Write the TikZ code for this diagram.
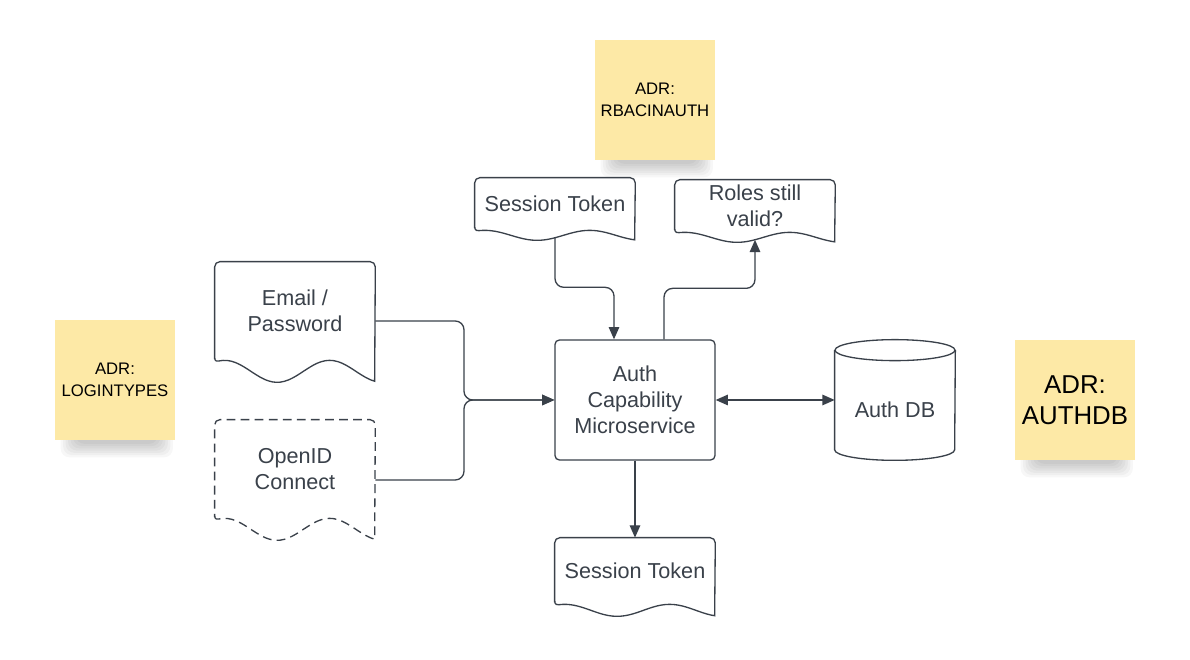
\documentclass[tikz,border=0pt]{standalone}
\usepackage{fontspec}
\setmainfont{Liberation Sans}
\usepackage{xcolor}
\usepackage{tikz}
\usetikzlibrary{positioning,arrows.meta,calc,backgrounds}
\definecolor{mSlate}{HTML}{3A414A}
\definecolor{mSticky}{HTML}{FDE9A6}

% document outline: body = node, wave hangs below it
\newcommand{\docwave}[3][]{%
  \draw[docline,#1,shift={(#2.south west)}]
    plot[domain=0:3.2,samples=40,smooth] (\x,{-#3/2+#3/2*cos(171.43*(\x-2.3))})
    [rounded corners=3pt] -- (#2.north east) -- (#2.north west) -- cycle;}
% soft shadow under a sticky note
\newcommand{\stickyshadow}[1]{%
  \foreach \k in {0,...,6}
    \fill[black, opacity=0.03, rounded corners=5pt]
      ($(#1.south west)+(0.12+0.05*\k,-0.34+0.045*\k)$) rectangle ($(#1.south east)+(-0.05-0.05*\k,0.6)$);}

\begin{document}
\begin{tikzpicture}[font=\fontsize{12.3}{14.8}\selectfont,
  >={Triangle[length=7pt,width=6pt]},
  docline/.style={draw=mSlate, line width=0.75pt},
  docbox/.style={minimum width=3.2cm, align=center, text=mSlate, inner sep=0pt},
  servicebox/.style={draw=mSlate, line width=0.75pt, rounded corners=2.5pt, minimum width=3.2cm, minimum height=2.4cm, align=center, text=mSlate},
  sticky/.style={fill=mSticky, minimum width=2.4cm, minimum height=2.4cm, align=center, text=black, inner sep=0pt},
  flow/.style={mSlate, line width=0.75pt, rounded corners=5pt, ->}]
\useasboundingbox (0,0) rectangle (23.8,13.2);

% ADR notes
\node[sticky, font=\fontsize{9.5}{12.5}\selectfont] (adrLogin) at (2.3,5.6) {ADR:\\LOGINTYPES};
\node[sticky, font=\fontsize{9.5}{12.5}\selectfont] (adrRbac) at (13.1,11.2) {ADR:\\RBACINAUTH};
\node[sticky, font=\fontsize{14.7}{17.6}\selectfont] (adrDb) at (21.5,5.2) {ADR:\\AUTHDB};
\begin{scope}[on background layer]
  \fill[white] (0,0) rectangle (23.8,13.2);
  \stickyshadow{adrLogin}
  \stickyshadow{adrRbac}
  \stickyshadow{adrDb}
\end{scope}

% documents
\node[docbox, minimum height=1.96cm] (email) at (5.9,6.98) {Email /\\Password};
\node[docbox, minimum height=1.96cm] (openid) at (5.9,3.82) {OpenID\\Connect};
\node[docbox, minimum height=1.04cm] (tokenIn) at (11.1,9.12) {Session Token};
\node[docbox, minimum height=1.04cm] (roles) at (15.1,9.08) {Roles still\\valid?};
\node[docbox, minimum height=1.32cm] (tokenOut) at (12.7,1.78) {Session Token};
\docwave{email}{0.44}
\docwave[dash pattern=on 5pt off 3pt]{openid}{0.44}
\docwave{tokenIn}{0.2}
\docwave{roles}{0.2}
\docwave{tokenOut}{0.24}

% service and store
\node[servicebox] (auth) at (12.7,5.2) {Auth\\Capability\\Microservice};
\node[docbox, minimum width=2.4cm, minimum height=2.4cm] (db) at (17.9,5.2) {\raisebox{-0.2cm}[\height][\depth]{Auth DB}};
\draw[docline] ($(db.north)+(0,-0.21)$) ellipse (1.2 and 0.21);
\draw[docline] ($(db.north west)+(0,-0.21)$) -- ($(db.south west)+(0,0.21)$) arc (180:360:1.2 and 0.21) -- ($(db.north east)+(0,-0.21)$);

% connectors
\coordinate (join) at (9.28,5.2);
\draw[flow] ($(email.east)+(0,-0.2)$) -| (join) -- (auth.west);
\draw[flow] ($(openid.east)+(0,-0.22)$) -| (join) -- (auth.west);
\draw[flow] ($(tokenIn.south)+(0,-0.15)$) |- ($(auth.north)+(-0.42,1.04)$) -- ($(auth.north)+(-0.42,0)$);
\draw[flow] ($(auth.north)+(0.58,0)$) |- ($(roles.south)+(0,-1.12)$) -- ($(roles.south)+(0,-0.15)$);
\draw[flow] (auth.south) -- (tokenOut.north);
\draw[flow, <->] (auth.east) -- (db.west);
\end{tikzpicture}
\end{document}
